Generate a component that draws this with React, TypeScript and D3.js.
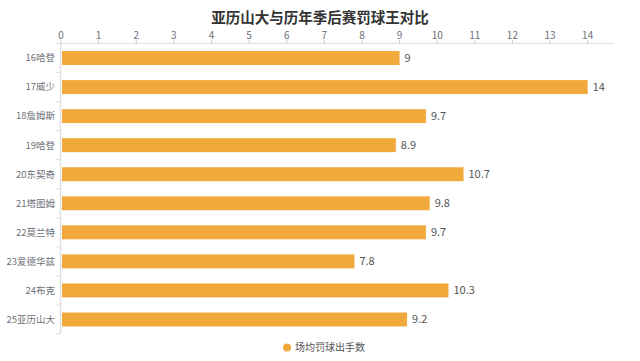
import * as d3 from "d3";
import { useEffect, useRef } from "react";

const players = ["16哈登", "17威少", "18詹姆斯", "19哈登", "20东契奇", "21塔图姆", "22莫兰特", "23爱德华兹", "24布克", "25亚历山大"];
const fta = [9, 14, 9.7, 8.9, 10.7, 9.8, 9.7, 7.8, 10.3, 9.2];
const xTicks = d3.range(0, 15);
const title = "亚历山大与历年季后赛罚球王对比";
const seriesName = "场均罚球出手数";

function App() {
  const w = 640;
  const h = 361;
  const svgRef = useRef(null);

  useEffect(() => {
    const svg = d3.select(svgRef.current);
    svg.selectAll("*").remove();
    const font = "'Microsoft YaHei', 'Noto Sans CJK SC', sans-serif";

    const x = d3.scaleLinear().domain([0, 14.7]).range([61, 614]);
    const y = d3.scaleBand().domain(players).range([43.5, 334]).paddingInner(0.52).paddingOuter(0.26);
    const band = d3.scaleBand().domain(players).range([43.5, 334]);

    svg.append("text")
      .attr("x", 320).attr("y", 22.5)
      .attr("text-anchor", "middle")
      .attr("font-family", font).attr("font-size", 14.5).attr("font-weight", "bold")
      .attr("fill", "#333")
      .text(title);

    // top axis
    const top = svg.append("g");
    top.append("line").attr("x1", 61).attr("x2", 614).attr("y1", 43.5).attr("y2", 43.5)
      .attr("stroke", "#e0e0e0").attr("stroke-width", 1);
    top.selectAll(".tk").data(xTicks).join("line")
      .attr("x1", (d) => x(d)).attr("x2", (d) => x(d))
      .attr("y1", 43.5).attr("y2", 40).attr("stroke", "#ccc");
    top.selectAll(".tl").data(xTicks).join("text")
      .attr("x", (d) => x(d)).attr("y", 38.5)
      .attr("text-anchor", "middle")
      .attr("font-family", font).attr("font-size", 10).attr("fill", "#6e7079")
      .text((d) => d);

    // left axis
    const left = svg.append("g");
    left.append("line").attr("x1", 60.5).attr("x2", 60.5).attr("y1", 43.5).attr("y2", 334)
      .attr("stroke", "#e0e0e0").attr("stroke-width", 1.5);
    const bounds = players.map((p) => band(p)).concat([334]);
    left.selectAll(".bt").data(bounds).join("line")
      .attr("x1", 56).attr("x2", 60).attr("y1", (d) => d).attr("y2", (d) => d)
      .attr("stroke", "#ddd");
    left.selectAll(".bl").data(players).join("text")
      .attr("x", 55).attr("y", (d) => band(d) + band.bandwidth() / 2)
      .attr("dy", "0.35em").attr("text-anchor", "end")
      .attr("font-family", font).attr("font-size", 9.5).attr("fill", "#6e7079")
      .text((d) => d);

    svg.selectAll(".bar").data(fta).join("rect")
      .attr("x", x(0) + 1)
      .attr("y", (d, i) => y(players[i]))
      .attr("width", (d) => x(d) - x(0) - 1)
      .attr("height", y.bandwidth())
      .attr("fill", "#f2a93b");

    svg.selectAll(".val").data(fta).join("text")
      .attr("x", (d) => x(d) + 5)
      .attr("y", (d, i) => y(players[i]) + y.bandwidth() / 2)
      .attr("dy", "0.35em")
      .attr("font-family", font).attr("font-size", 11).attr("fill", "#555")
      .text((d) => d);

    // legend
    svg.append("circle").attr("cx", 287).attr("cy", 347.5).attr("r", 4).attr("fill", "#f2a93b");
    svg.append("text").attr("x", 295).attr("y", 347.5).attr("dy", "0.35em")
      .attr("font-family", font).attr("font-size", 10).attr("fill", "#555")
      .text(seriesName);
  }, []);

  return (
    <svg ref={svgRef} width={w} height={h} style={{ position: "absolute", left: 0, top: 0 }} />
  );
}

export default App;
